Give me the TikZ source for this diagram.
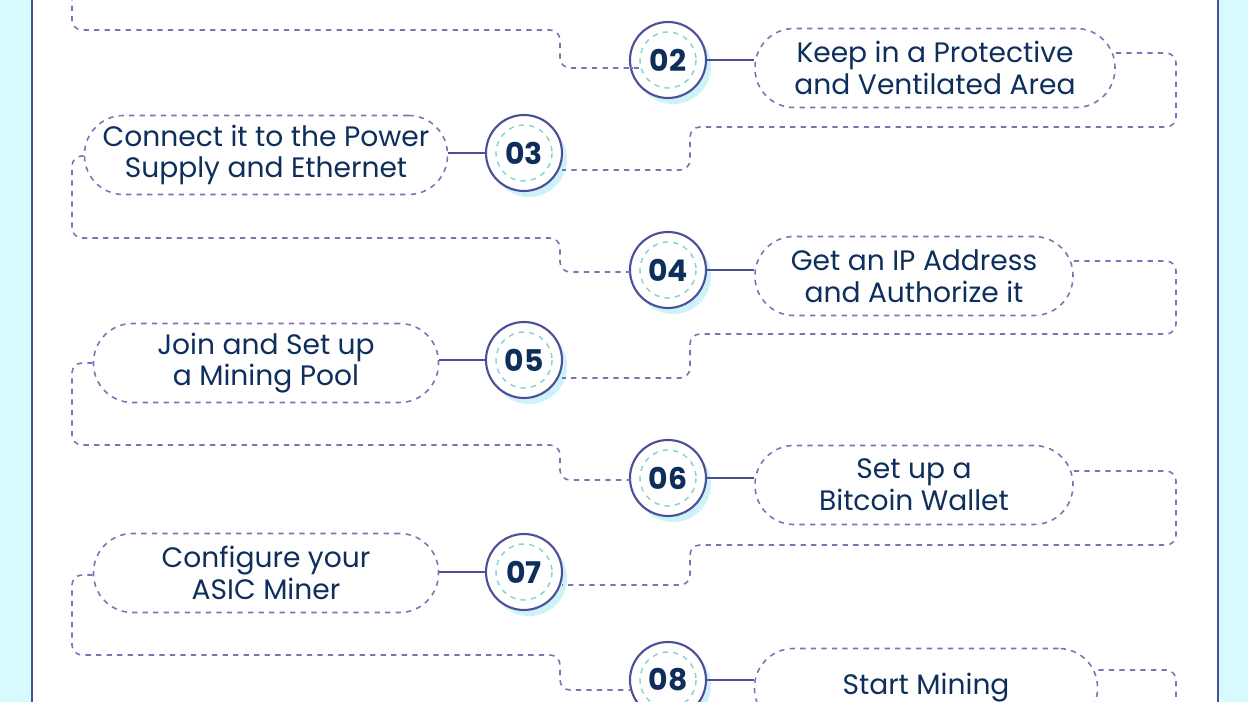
\documentclass[tikz,border=0pt]{standalone}
\usepackage{fontspec}
\setmainfont{Poppins}
\usetikzlibrary{calc,positioning}
\definecolor{bgcyan}{HTML}{D6FAFD}
\definecolor{navy}{HTML}{0E2F5C}
\definecolor{ringc}{HTML}{4B4F98}
\definecolor{dashc}{HTML}{7B73B3}
\definecolor{tealc}{HTML}{7FD6C8}
\definecolor{glowc}{HTML}{CDF3F8}
\newcommand{\px}{*0.02cm}
\tikzset{
  stepnum/.style={circle,draw=ringc,line width=1.2pt,fill=white,minimum size=76\px,inner sep=0pt,
    font=\bfseries\fontsize{17}{20}\selectfont,text=navy},
  box/.style={rounded corners=39\px,draw=dashc,dashed,line width=0.9pt,fill=white,minimum height=79\px,
    align=center,font=\fontsize{16}{18}\selectfont,text=navy,inner xsep=2pt},
  link/.style={draw=dashc,dashed,line width=0.9pt,rounded corners=10\px},
  tie/.style={draw=ringc,line width=1.2pt}
}
\begin{document}
\begin{tikzpicture}[x=0.02cm,y=-0.02cm]
  \useasboundingbox (0,0) rectangle (1248,702);
  \fill[bgcyan] (0,0) rectangle (1248,702);
  \fill[white] (32,-5) rectangle (1218,707);
  \draw[ringc,line width=1pt] (32,-5) -- (32,707) (1218,-5) -- (1218,707);
  % steps
  \foreach \n/\x/\y in {2/668/60,3/524/153,4/668/270,5/524/360,6/668/478,7/524/572,8/668/680}{
    \fill[glowc] (\x+5,\y+6) circle (38);
    \node[stepnum] (c\n) at (\x,\y) {0\n};
    \draw[tealc,dashed,line width=0.8pt] (c\n.center) circle (28);
  }
  % texts
  \node[box,minimum width=360\px] (b2) at (935,68) {Keep in a Protective\\and Ventilated Area};
  \node[box,minimum width=363\px] (b3) at (266,155) {Connect it to the Power\\Supply and Ethernet};
  \node[box,minimum width=318\px] (b4) at (914,276) {Get an IP Address\\and Authorize it};
  \node[box,minimum width=345\px] (b5) at (266,363) {Join and Set up\\a Mining Pool};
  \node[box,minimum width=318\px] (b6) at (914,485) {Set up a\\Bitcoin Wallet};
  \node[box,minimum width=345\px] (b7) at (266,573) {Configure your\\ASIC Miner};
  \node[box,minimum width=343\px] (b8) at (926,688) {Start Mining};
  \foreach \n in {2,4,6,8}{\draw[tie] (c\n.east) -- (b\n.west|-c\n.east);}
  \foreach \n in {3,5,7}{\draw[tie] (c\n.west) -- (b\n.east|-c\n.west);}
  % dashed routes
  \coordinate (top) at (72,-5);
  \coordinate (bot) at (1176,707);
  \draw[link] (top) |- (560,30) |- (c2.west|-0,68) -- ($(c2.center)+(-38,8)$);
  \draw[link] ($(b2.east)+(0,-15)$) -| (1176,127) -| (690,170) -- ($(c3.center)+(38,17)$);
  \draw[link] ($(b3.west)+(0,1)$) -| (72,238) -| (560,272) -- ($(c4.center)+(-38,2)$);
  \draw[link] ($(b4.east)+(0,-15)$) -| (1176,334) -| (690,378) -- ($(c5.center)+(38,18)$);
  \draw[link] ($(b5.west)+(0,0)$) -| (72,445) -| (560,480) -- ($(c6.center)+(-38,2)$);
  \draw[link] ($(b6.east)+(0,-14)$) -| (1176,545) -| (690,585) -- ($(c7.center)+(38,13)$);
  \draw[link] ($(b7.west)+(0,2)$) -| (72,655) -| (560,690) -- ($(c8.center)+(-38,10)$);
  \draw[link] ($(b8.east)+(0,-18)$) -| (bot);
\end{tikzpicture}
\end{document}
